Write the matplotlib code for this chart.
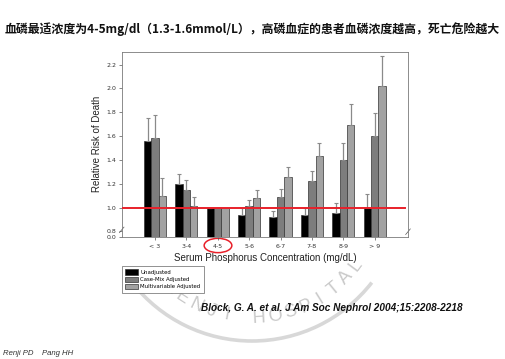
import numpy as np
import matplotlib
matplotlib.use('Agg')
import matplotlib.pyplot as plt
from matplotlib.patches import Ellipse, Arc

# ---- data ----
categories = ['< 3', '3-4', '4-5', '5-6', '6-7', '7-8', '8-9', '> 9']
series_names = ['Unadjusted', 'Case-Mix Adjusted', 'Multivariable Adjusted']
unadjusted = [1.56, 1.20, 1.00, 0.94, 0.92, 0.94, 0.95, 1.00]
unadjusted_upper = [1.75, 1.28, 1.00, 1.00, 0.975, 1.00, 1.04, 1.115]
casemix = [1.58, 1.15, 1.00, 1.01, 1.09, 1.22, 1.40, 1.60]
casemix_upper = [1.78, 1.23, 1.00, 1.065, 1.155, 1.31, 1.54, 1.795]
multivar = [1.10, 1.01, 1.00, 1.08, 1.26, 1.435, 1.69, 2.02]
multivar_upper = [1.245, 1.085, 1.00, 1.145, 1.34, 1.545, 1.87, 2.275]
y_ticks = [0.0, 0.8, 1.0, 1.2, 1.4, 1.6, 1.8, 2.0, 2.2]
y_ticklabels = ['0.0', '0.8', '1.0', '1.2', '1.4', '1.6', '1.8', '2.0', '2.2']
reference_value = 1.0

title = '血磷最适浓度为4-5mg/dl（1.3-1.6mmol/L），高磷血症的患者血磷浓度越高，死亡危险越大'
citation = 'Block, G. A. et al. J Am Soc Nephrol 2004;15:2208-2218'
authors = 'Renji PD    Pang HH'
watermark = 'RENJI HOSPITAL'

W, H = 505, 359
fig = plt.figure(figsize=(W / 100, H / 100), dpi=100)
fig.patch.set_facecolor('white')

# background overlay in pixel coordinates
bg = fig.add_axes([0, 0, 1, 1], zorder=-1)
bg.set_xlim(0, W)
bg.set_ylim(H, 0)
bg.axis('off')

# watermark seal
cx, cy = 252, 189
bg.add_patch(Arc((cx, cy), 2 * 152, 2 * 152, theta1=38, theta2=142,
                 color='#d8d8d8', lw=2.6))
angles = np.arange(len(watermark)) * 7.2 - 40
for ch, a in zip(watermark, angles):
    if ch == ' ':
        continue
    r = 129
    x = cx + r * np.sin(np.radians(a))
    y = cy + r * np.cos(np.radians(a))
    bg.text(x, y, ch, rotation=a, ha='center', va='center', fontsize=13,
            color='#c9c9c9', family='Liberation Sans', rotation_mode='anchor')

bg.text(5, 29, title, fontsize=8.55, fontweight='bold', va='center', ha='left',
        family=['Noto Sans CJK SC', 'DejaVu Sans'], color='#111111')
bg.text(201, 308, citation, fontsize=7.2, fontweight='bold', style='italic',
        va='center', ha='left', family='Liberation Sans', color='#111111')
bg.text(3, 353.5, authors, fontsize=5.6, style='italic', va='center', ha='left',
        family='Liberation Sans', color='#333333')

# main axes
ax = fig.add_axes([121.7 / W, 1 - 236.7 / H, 286.3 / W, 185 / H])
ax.set_facecolor('none')


def fwd(v):
    v = np.asarray(v, dtype=float)
    return np.where(v < 0.8, 0.755 + v * (0.045 / 0.8), v)


def inv(u):
    u = np.asarray(u, dtype=float)
    return np.where(u < 0.8, (u - 0.755) * (0.8 / 0.045), u)


ax.set_yscale('function', functions=(fwd, inv))

x = np.arange(len(categories))
w = 0.235
colors = ['#000000', '#7d7d7d', '#a2a2a2']
series = [(unadjusted, unadjusted_upper), (casemix, casemix_upper),
          (multivar, multivar_upper)]
handles = []
for i, ((vals, ups), col, name) in enumerate(zip(series, colors, series_names)):
    vals = np.array(vals)
    err = np.array(ups) - vals
    b = ax.bar(x + (i - 1) * w, vals, w, color=col, edgecolor='#333333',
               linewidth=0.5, label=name,
               yerr=[np.zeros_like(err), err],
               error_kw=dict(ecolor='#8a8a8a', elinewidth=0.9, capsize=1.6,
                             capthick=0.8), zorder=2)
    handles.append(b)

ax.axhline(reference_value, xmin=0.0, xmax=0.99, color='#e8202a', lw=1.4, zorder=3)

ax.set_xlim(-1.06, len(categories) - 1 + 1.06)
ax.set_ylim(0, 2.309)
ax.set_yticks(y_ticks)
ax.set_yticklabels(y_ticklabels)
ax.yaxis.set_minor_locator(matplotlib.ticker.NullLocator())
ax.set_xticks(x)
ax.set_xticklabels(categories)
ax.tick_params(axis='both', labelsize=4.5, length=2.2, width=0.5,
               color='#555555', labelcolor='#333333', pad=1.5)
ax.tick_params(axis='x', pad=3)
for s in ax.spines.values():
    s.set_color('#7a7a7a')
    s.set_linewidth(0.6)

# axis break marks
ax.plot([-0.008, 0.008], [0.022, 0.052], transform=ax.transAxes, color='#555555',
        lw=0.5, clip_on=False)
ax.plot([0.992, 1.008], [0.012, 0.042], transform=ax.transAxes, color='#555555',
        lw=0.5, clip_on=False)

ax.set_xlabel('Serum Phosphorus Concentration (mg/dL)', fontsize=7,
              family='Liberation Sans', labelpad=3, color='#222222')
ax.set_ylabel('Relative Risk of Death', fontsize=7, family='Liberation Sans',
              labelpad=3, color='#222222')

# red circle around the optimal range label
bg.add_patch(Ellipse((218, 245.5), 27.7, 14.3, fill=False, edgecolor='#e8202a', lw=1.1))

leg = ax.legend(handles=handles, loc='upper left',
                bbox_to_anchor=(121.7 / W, 1 - 265.7 / H),
                bbox_transform=fig.transFigure, fontsize=3.9, frameon=True,
                fancybox=False, edgecolor='#666666', framealpha=1,
                handlelength=2.3, handleheight=1.1, handletextpad=0.4,
                labelspacing=0.3, borderpad=0.7, borderaxespad=0)
leg.get_frame().set_linewidth(0.5)

fig.savefig('out.png', dpi=100, facecolor='white')
